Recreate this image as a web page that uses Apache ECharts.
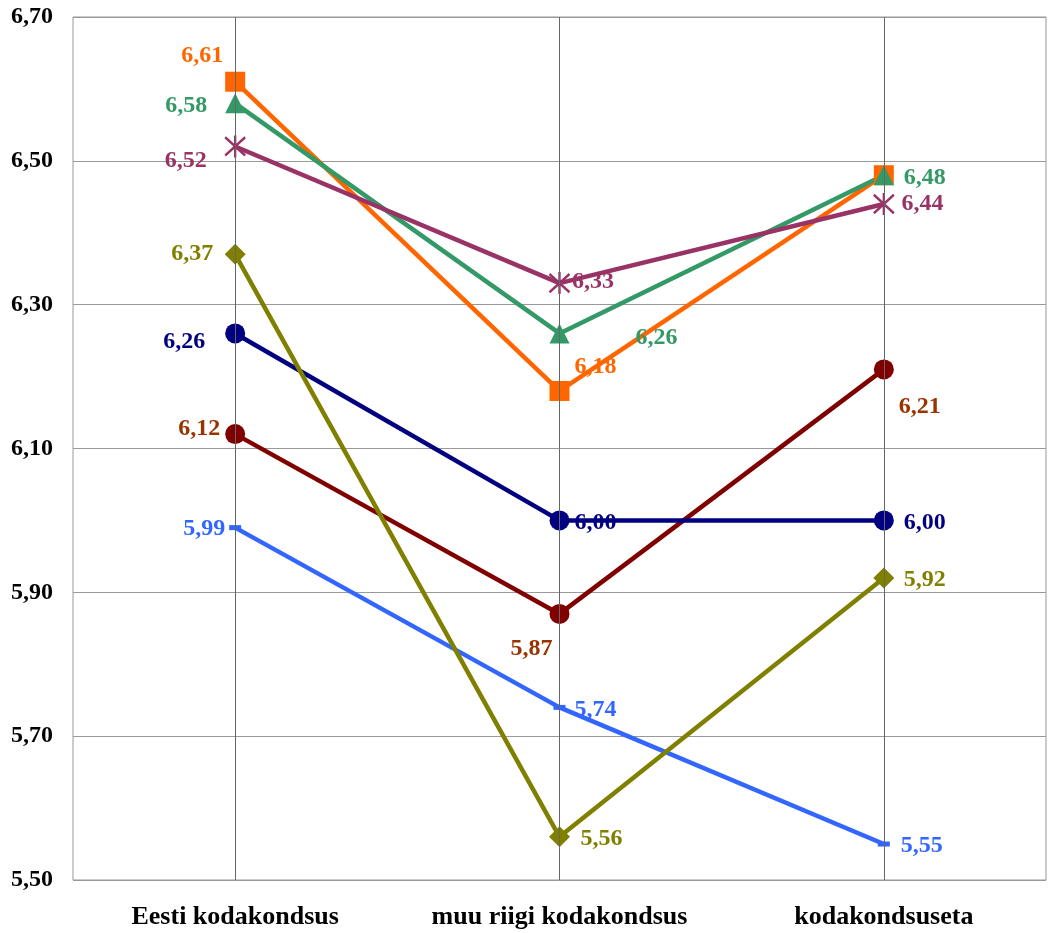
<!DOCTYPE html>
<html>
<head>
<meta charset="utf-8">
<script src="https://cdn.jsdelivr.net/npm/echarts@6/dist/echarts.min.js"></script>
<style>html,body{margin:0;padding:0;background:#fff}#c{width:1048px;height:933px}</style>
</head>
<body>
<div id="c"></div>
<script>
const categories = ['Eesti kodakondsus', 'muu riigi kodakondsus', 'kodakondsuseta'];
const orangeVals = [6.61, 6.18, 6.48];
const greenVals = [6.58, 6.26, 6.48];
const purpleVals = [6.52, 6.33, 6.44];
const oliveVals = [6.37, 5.56, 5.92];
const navyVals = [6.26, 6.00, 6.00];
const darkredVals = [6.12, 5.87, 6.21];
const blueVals = [5.99, 5.74, 5.55];
const yTicks = ['5,50', '5,70', '5,90', '6,10', '6,30', '6,50', '6,70'];

const FONT = "'Liberation Serif','Times New Roman',serif";
const fmt = v => v.toFixed(2).replace('.', ',');

function mk(name, vals, color, labelColor, symbol, symbolSize, offsets, extra) {
  const sw = Array.isArray(symbolSize) ? symbolSize[0] : symbolSize;
  const sh = Array.isArray(symbolSize) ? symbolSize[1] : symbolSize;
  return Object.assign({
    name: name,
    type: 'line',
    data: vals.map((v, i) => ({
      value: v,
      label: offsets[i]
        ? { show: true, position: [sw / 2 + offsets[i][0], sh / 2 + offsets[i][1] + 2] }
        : { show: false }
    })),
    symbol: symbol,
    symbolSize: symbolSize,
    lineStyle: { color: color, width: 4.5 },
    itemStyle: { color: color },
    label: {
      show: true, color: labelColor, align: 'center', verticalAlign: 'middle',
      fontFamily: FONT, fontWeight: 'bold', fontSize: 24,
      formatter: p => fmt(p.value)
    },
    labelLayout: { hideOverlap: false },
    z: 3
  }, extra || {});
}

const chart = echarts.init(document.getElementById('c'));
chart.setOption({
  animation: false,
  backgroundColor: '#fff',
  grid: { left: 73, right: 2, top: 17, bottom: 53, show: true, borderColor: '#999', borderWidth: 1 },
  xAxis: {
    type: 'category', data: categories, boundaryGap: true,
    axisLine: { show: false }, axisTick: { show: false },
    splitLine: { show: false },
    axisLabel: { interval: 0, hideOverlap: false, color: '#000', fontFamily: FONT, fontWeight: 'bold', fontSize: 26, margin: 24 }
  },
  yAxis: {
    type: 'value', min: 5.5, max: 6.7, interval: 0.2,
    axisLine: { show: false }, axisTick: { show: false },
    splitLine: { lineStyle: { color: '#999', width: 1 } },
    axisLabel: {
      color: '#000', fontFamily: FONT, fontWeight: 'bold', fontSize: 24,
      align: 'left', margin: 62,
      formatter: (v) => yTicks[Math.round((v - 5.5) / 0.2)] || fmt(v)
    }
  },
  series: [
    mk('blue', blueVals, '#3366FF', '#3366FF', 'rect', [12, 5], [[-31, -1], [36, 0], [38, 0]], {
      markLine: {
        silent: true, symbol: 'none', animation: false,
        label: { show: false },
        lineStyle: { color: '#666', width: 1, type: 'solid' },
        data: categories.map(c => ({ xAxis: c }))
      }
    }),
    mk('darkred', darkredVals, '#800000', '#993300', 'circle', 20, [[-36, -7], [-28, 33], [36, 35]]),
    mk('navy', navyVals, '#000080', '#000080', 'circle', 20, [[-51, 6], [36, 0], [41, 0]]),
    mk('olive', oliveVals, '#808000', '#808000', 'diamond', 21, [[-43, -3], [42, 0], [41, 0]]),
    mk('orange', orangeVals, '#FF6600', '#FF6600', 'rect', 20, [[-33, -28], [36, -26], null]),
    mk('green', greenVals, '#339966', '#339966', 'triangle', 20, [[-49, 0], [97, 2], [41, 1]]),
    mk('purple', purpleVals, '#993366', '#993366', 'path://M0,0 L20,20 M20,0 L0,20 M10,-2 L10,22', [20, 22], [[-47, 15], [36, -1], [41, 0]], {
      itemStyle: { color: 'none', borderColor: '#993366', borderWidth: 2.5 }
    })
  ]
});
</script>
</body>
</html>
